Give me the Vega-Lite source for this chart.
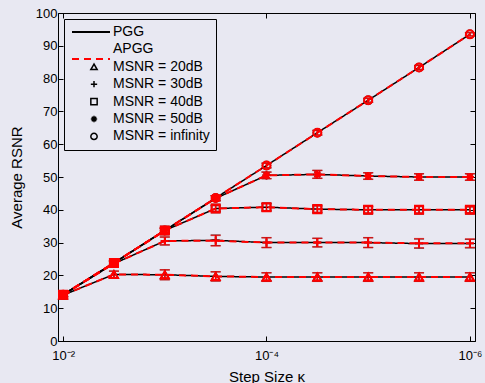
{
  "$schema": "https://vega.github.io/schema/vega-lite/v6.json",
  "width": 417,
  "height": 328,
  "autosize": "none",
  "padding": {"left": 58, "top": 13, "right": 10, "bottom": 42},
  "background": "#e8e8f2",
  "config": {
    "view": {"stroke": "black", "strokeWidth": 1},
    "font": "Liberation Sans",
    "axis": {"labelFont": "Liberation Sans", "titleFont": "Liberation Sans", "labelFontSize": 13, "titleFontSize": 15, "titleFontWeight": "normal", "labelColor": "black", "titleColor": "black", "domainColor": "black", "tickColor": "black", "grid": false, "tickSize": -5},
    "legend": {"labelFont": "Liberation Sans", "labelFontSize": 14, "labelColor": "black"}
  },
  "datasets": {
    "d": [
      {"a":"PGG","m":"20dB","k":0.01,"y":14.0,"e":0.6},
      {"a":"PGG","m":"20dB","k":0.003162,"y":20.3,"e":1.0},
      {"a":"PGG","m":"20dB","k":0.001,"y":20.2,"e":1.5},
      {"a":"PGG","m":"20dB","k":0.0003162,"y":19.7,"e":1.4},
      {"a":"PGG","m":"20dB","k":0.0001,"y":19.5,"e":1.3},
      {"a":"PGG","m":"20dB","k":0.00003162,"y":19.5,"e":1.3},
      {"a":"PGG","m":"20dB","k":0.00001,"y":19.5,"e":1.3},
      {"a":"PGG","m":"20dB","k":0.000003162,"y":19.5,"e":1.3},
      {"a":"PGG","m":"20dB","k":0.000001,"y":19.5,"e":1.3},
      {"a":"PGG","m":"30dB","k":0.01,"y":14.1,"e":0.6},
      {"a":"PGG","m":"30dB","k":0.003162,"y":23.6,"e":0.8},
      {"a":"PGG","m":"30dB","k":0.001,"y":30.5,"e":1.2},
      {"a":"PGG","m":"30dB","k":0.0003162,"y":30.7,"e":1.6},
      {"a":"PGG","m":"30dB","k":0.0001,"y":30.0,"e":1.5},
      {"a":"PGG","m":"30dB","k":0.00003162,"y":30.0,"e":1.3},
      {"a":"PGG","m":"30dB","k":0.00001,"y":30.0,"e":1.5},
      {"a":"PGG","m":"30dB","k":0.000003162,"y":29.7,"e":1.4},
      {"a":"PGG","m":"30dB","k":0.000001,"y":29.7,"e":1.3},
      {"a":"PGG","m":"40dB","k":0.01,"y":14.1,"e":0.6},
      {"a":"PGG","m":"40dB","k":0.003162,"y":23.8,"e":0.6},
      {"a":"PGG","m":"40dB","k":0.001,"y":33.7,"e":0.7},
      {"a":"PGG","m":"40dB","k":0.0003162,"y":40.4,"e":0.9},
      {"a":"PGG","m":"40dB","k":0.0001,"y":40.8,"e":1.1},
      {"a":"PGG","m":"40dB","k":0.00003162,"y":40.2,"e":1.0},
      {"a":"PGG","m":"40dB","k":0.00001,"y":40.0,"e":1.0},
      {"a":"PGG","m":"40dB","k":0.000003162,"y":40.0,"e":1.0},
      {"a":"PGG","m":"40dB","k":0.000001,"y":40.0,"e":0.9},
      {"a":"PGG","m":"50dB","k":0.01,"y":14.1,"e":0.6},
      {"a":"PGG","m":"50dB","k":0.003162,"y":23.8,"e":0.6},
      {"a":"PGG","m":"50dB","k":0.001,"y":33.7,"e":0.7},
      {"a":"PGG","m":"50dB","k":0.0003162,"y":43.5,"e":0.8},
      {"a":"PGG","m":"50dB","k":0.0001,"y":50.5,"e":1.0},
      {"a":"PGG","m":"50dB","k":0.00003162,"y":50.8,"e":1.2},
      {"a":"PGG","m":"50dB","k":0.00001,"y":50.3,"e":1.0},
      {"a":"PGG","m":"50dB","k":0.000003162,"y":50.0,"e":1.0},
      {"a":"PGG","m":"50dB","k":0.000001,"y":50.0,"e":1.0},
      {"a":"PGG","m":"infinity","k":0.01,"y":14.1,"e":0.6},
      {"a":"PGG","m":"infinity","k":0.003162,"y":23.8,"e":0.6},
      {"a":"PGG","m":"infinity","k":0.001,"y":33.7,"e":0.7},
      {"a":"PGG","m":"infinity","k":0.0003162,"y":43.6,"e":0.7},
      {"a":"PGG","m":"infinity","k":0.0001,"y":53.5,"e":0.7},
      {"a":"PGG","m":"infinity","k":0.00003162,"y":63.5,"e":0.7},
      {"a":"PGG","m":"infinity","k":0.00001,"y":73.4,"e":0.6},
      {"a":"PGG","m":"infinity","k":0.000003162,"y":83.4,"e":0.6},
      {"a":"PGG","m":"infinity","k":0.000001,"y":93.5,"e":0.5},
      {"a":"APGG","m":"20dB","k":0.01,"y":14.0,"e":0.6},
      {"a":"APGG","m":"20dB","k":0.003162,"y":20.3,"e":1.0},
      {"a":"APGG","m":"20dB","k":0.001,"y":20.2,"e":1.5},
      {"a":"APGG","m":"20dB","k":0.0003162,"y":19.7,"e":1.4},
      {"a":"APGG","m":"20dB","k":0.0001,"y":19.5,"e":1.3},
      {"a":"APGG","m":"20dB","k":0.00003162,"y":19.5,"e":1.3},
      {"a":"APGG","m":"20dB","k":0.00001,"y":19.5,"e":1.3},
      {"a":"APGG","m":"20dB","k":0.000003162,"y":19.5,"e":1.3},
      {"a":"APGG","m":"20dB","k":0.000001,"y":19.5,"e":1.3},
      {"a":"APGG","m":"30dB","k":0.01,"y":14.1,"e":0.6},
      {"a":"APGG","m":"30dB","k":0.003162,"y":23.6,"e":0.8},
      {"a":"APGG","m":"30dB","k":0.001,"y":30.5,"e":1.2},
      {"a":"APGG","m":"30dB","k":0.0003162,"y":30.6,"e":1.6},
      {"a":"APGG","m":"30dB","k":0.0001,"y":30.0,"e":1.5},
      {"a":"APGG","m":"30dB","k":0.00003162,"y":30.0,"e":1.3},
      {"a":"APGG","m":"30dB","k":0.00001,"y":30.0,"e":1.5},
      {"a":"APGG","m":"30dB","k":0.000003162,"y":29.8,"e":1.4},
      {"a":"APGG","m":"30dB","k":0.000001,"y":29.8,"e":1.3},
      {"a":"APGG","m":"40dB","k":0.01,"y":14.1,"e":0.6},
      {"a":"APGG","m":"40dB","k":0.003162,"y":23.8,"e":0.6},
      {"a":"APGG","m":"40dB","k":0.001,"y":33.7,"e":0.7},
      {"a":"APGG","m":"40dB","k":0.0003162,"y":40.4,"e":0.9},
      {"a":"APGG","m":"40dB","k":0.0001,"y":40.8,"e":1.1},
      {"a":"APGG","m":"40dB","k":0.00003162,"y":40.2,"e":1.0},
      {"a":"APGG","m":"40dB","k":0.00001,"y":40.0,"e":1.0},
      {"a":"APGG","m":"40dB","k":0.000003162,"y":40.0,"e":1.0},
      {"a":"APGG","m":"40dB","k":0.000001,"y":40.0,"e":0.9},
      {"a":"APGG","m":"50dB","k":0.01,"y":14.1,"e":0.6},
      {"a":"APGG","m":"50dB","k":0.003162,"y":23.8,"e":0.6},
      {"a":"APGG","m":"50dB","k":0.001,"y":33.7,"e":0.7},
      {"a":"APGG","m":"50dB","k":0.0003162,"y":43.5,"e":0.8},
      {"a":"APGG","m":"50dB","k":0.0001,"y":50.5,"e":1.0},
      {"a":"APGG","m":"50dB","k":0.00003162,"y":50.8,"e":1.2},
      {"a":"APGG","m":"50dB","k":0.00001,"y":50.3,"e":1.0},
      {"a":"APGG","m":"50dB","k":0.000003162,"y":50.0,"e":1.0},
      {"a":"APGG","m":"50dB","k":0.000001,"y":50.0,"e":1.0},
      {"a":"APGG","m":"infinity","k":0.01,"y":14.1,"e":0.6},
      {"a":"APGG","m":"infinity","k":0.003162,"y":23.8,"e":0.6},
      {"a":"APGG","m":"infinity","k":0.001,"y":33.7,"e":0.7},
      {"a":"APGG","m":"infinity","k":0.0003162,"y":43.6,"e":0.7},
      {"a":"APGG","m":"infinity","k":0.0001,"y":53.5,"e":0.7},
      {"a":"APGG","m":"infinity","k":0.00003162,"y":63.5,"e":0.7},
      {"a":"APGG","m":"infinity","k":0.00001,"y":73.4,"e":0.6},
      {"a":"APGG","m":"infinity","k":0.000003162,"y":83.4,"e":0.6},
      {"a":"APGG","m":"infinity","k":0.000001,"y":93.5,"e":0.5}
    ]
  },
  "data": {"name": "d"},
  "resolve": {"axis": {"x": "independent", "y": "independent"}},
  "layer": [
    {
      "transform": [{"filter": "datum.a == 'PGG'"}],
      "mark": {"type": "errorbar", "ticks": {"size": 10}, "color": "black", "thickness": 1.2},
      "encoding": {
        "x": {"field": "k", "type": "quantitative", "scale": {"type": "log", "domain": [8.91e-7, 0.01122], "reverse": true, "nice": false},
              "axis": {"orient": "bottom", "title": "Step Size κ", "values": [0.01, 0.0001, 0.000001], "labelExpr": "datum.value > 0.001 ? '10⁻²' : datum.value > 0.00001 ? '10⁻⁴' : '10⁻⁶'", "labelPadding": 13, "titlePadding": 7, "labelFlush": false}},
        "y": {"field": "y", "type": "quantitative", "scale": {"domain": [0, 100], "nice": false},
              "axis": {"orient": "left", "title": "Average RSNR", "values": [0,10,20,30,40,50,60,70,80,90,100], "labelPadding": 6, "titlePadding": 11}},
        "yError": {"field": "e"}
      }
    },
    {
      "transform": [{"filter": "datum.a == 'PGG'"}],
      "mark": {"type": "line", "strokeWidth": 1.5},
      "encoding": {
        "x": {"field": "k", "type": "quantitative", "axis": {"orient": "top", "title": null, "labels": false, "domain": false, "values": [0.01, 0.0001, 0.000001]}},
        "y": {"field": "y", "type": "quantitative", "axis": {"orient": "right", "title": null, "labels": false, "domain": false, "values": [0,10,20,30,40,50,60,70,80,90,100]}},
        "detail": {"field": "m"},
        "color": {"field": "a", "type": "nominal", "scale": {"domain": ["PGG", "APGG"], "range": ["black", "red"]},
                  "legend": {"orient": "none", "legendX": 13, "legendY": -1, "title": null, "padding": 0, "symbolType": "stroke", "symbolSize": 1444, "symbolStrokeWidth": 2, "labelExpr": "''", "rowPadding": -4}},
        "strokeDash": {"field": "a", "type": "nominal", "scale": {"domain": ["PGG", "APGG"], "range": [[1, 0], [7, 5]]},
                  "legend": {"orient": "none", "legendX": 13, "legendY": -1, "title": null, "padding": 0, "symbolType": "stroke", "symbolSize": 1444, "symbolStrokeWidth": 2, "labelExpr": "''", "rowPadding": -4}}
      }
    },
    {
      "transform": [{"filter": "datum.a == 'PGG'"}],
      "mark": {"type": "point", "color": "black", "strokeWidth": 1.5, "size": 65, "opacity": 1, "filled": false},
      "encoding": {
        "x": {"field": "k", "type": "quantitative", "axis": null},
        "y": {"field": "y", "type": "quantitative", "axis": null},
        "shape": {"field": "m", "type": "nominal",
          "scale": {"domain": ["PGG", "APGG", "20dB", "30dB", "40dB", "50dB", "infinity"], "range": ["M0,0", "M0,0", "triangle-up", "M-1,0H1M0,-1V1", "square", "M-1,0H1M0,-1V1M-0.7,-0.7L0.7,0.7M-0.7,0.7L0.7,-0.7", "circle"]},
          "legend": {"orient": "none", "legendX": 6, "legendY": 6, "title": null, "padding": 6, "strokeColor": "black", "symbolSize": 40, "symbolStrokeColor": "black", "symbolFillColor": "transparent", "symbolStrokeWidth": 1.5, "symbolOffset": 17, "labelOffset": 12, "rowPadding": 3.4,
                     "labelExpr": "datum.label == 'PGG' || datum.label == 'APGG' ? datum.label : 'MSNR = ' + datum.label"}}
      }
    },
    {
      "transform": [{"filter": "datum.a == 'APGG'"}],
      "mark": {"type": "line", "strokeWidth": 2},
      "encoding": {
        "x": {"field": "k", "type": "quantitative", "axis": null},
        "y": {"field": "y", "type": "quantitative", "axis": null},
        "detail": {"field": "m"},
        "color": {"field": "a", "type": "nominal",
                  "legend": {"orient": "none", "legendX": 13, "legendY": -1, "title": null, "padding": 0, "symbolType": "stroke", "symbolSize": 1444, "symbolStrokeWidth": 2, "labelExpr": "''", "rowPadding": -4}},
        "strokeDash": {"field": "a", "type": "nominal",
                  "legend": {"orient": "none", "legendX": 13, "legendY": -1, "title": null, "padding": 0, "symbolType": "stroke", "symbolSize": 1444, "symbolStrokeWidth": 2, "labelExpr": "''", "rowPadding": -4}}
      }
    },
    {
      "transform": [{"filter": "datum.a == 'APGG'"}],
      "mark": {"type": "errorbar", "ticks": {"size": 10}, "color": "red", "thickness": 1.5},
      "encoding": {
        "x": {"field": "k", "type": "quantitative", "axis": null},
        "y": {"field": "y", "type": "quantitative", "axis": null},
        "yError": {"field": "e"}
      }
    },
    {
      "transform": [{"filter": "datum.a == 'APGG'"}],
      "mark": {"type": "point", "color": "red", "strokeWidth": 2, "size": 65, "opacity": 1, "filled": false},
      "encoding": {
        "x": {"field": "k", "type": "quantitative", "axis": null},
        "y": {"field": "y", "type": "quantitative", "axis": null},
        "shape": {"field": "m", "type": "nominal",
          "legend": {"orient": "none", "legendX": 6, "legendY": 6, "title": null, "padding": 6, "strokeColor": "black", "symbolSize": 40, "symbolStrokeColor": "black", "symbolFillColor": "transparent", "symbolStrokeWidth": 1.5, "symbolOffset": 17, "labelOffset": 12, "rowPadding": 3.4,
                     "labelExpr": "datum.label == 'PGG' || datum.label == 'APGG' ? datum.label : 'MSNR = ' + datum.label"}}
      }
    }
  ]
}
